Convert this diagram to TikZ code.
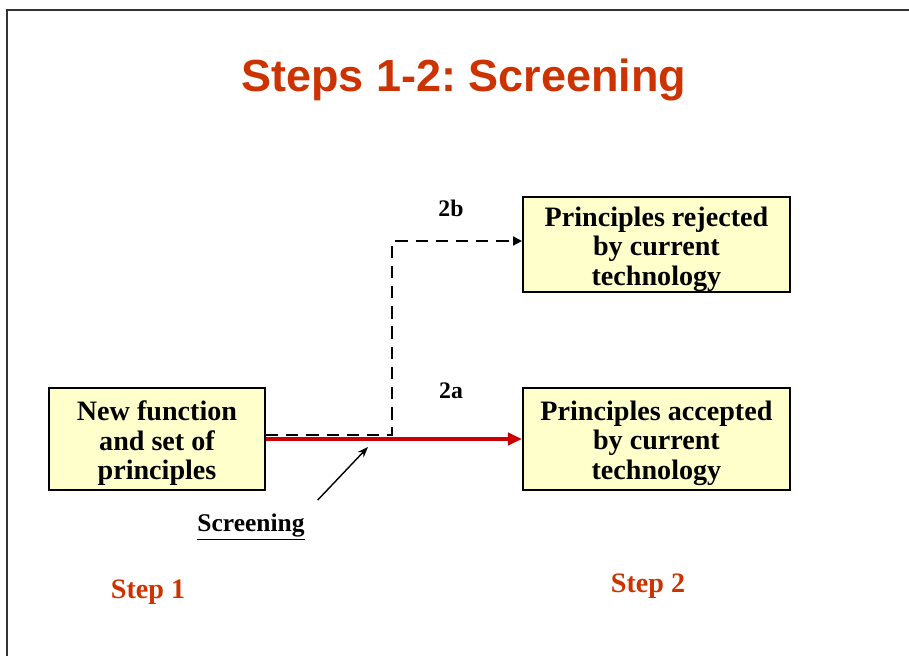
\documentclass[tikz,border=0pt]{standalone}
\usepackage{fontspec}
\setmainfont{Liberation Serif}
\newfontfamily\titlefont{Liberation Sans}
\usepackage{xcolor}
\usetikzlibrary{positioning,arrows.meta}

\definecolor{titlered}{RGB}{204,51,0}
\definecolor{arrowred}{RGB}{204,0,0}
\definecolor{boxyellow}{RGB}{255,255,204}
\newcommand{\topstrut}{\rule{0pt}{16pt}}

\begin{document}
\begin{tikzpicture}[
        every node/.style={font=\bfseries},
        box/.style={
            draw=black,
            line width=1.1pt,
            fill=boxyellow,
            align=center,
            inner xsep=2pt,
            inner ysep=0pt,
            font=\fontsize{16}{16.8}\selectfont\bfseries
        },
        steplabel/.style={text=titlered, font=\fontsize{16}{18}\selectfont\bfseries},
        branchlabel/.style={font=\fontsize{13.5}{15}\selectfont\bfseries},
        >=Triangle,
        passarrow/.style={->, line width=2pt, draw=arrowred, arrows={-Triangle[length=8pt,width=7pt]}},
        rejectarrow/.style={->, line width=1.7pt, dash pattern=on 7pt off 4.5pt, arrows={-Triangle[length=5pt,width=5pt]}},
        pointer/.style={->, line width=0.8pt, arrows={-Stealth[length=6pt,width=4.5pt]}}
    ]
        \useasboundingbox (0,0) rectangle (18.18,-13.1);

        % Frame
        \draw[line width=1pt, black!80] (18.3,-0.2) -- (0.14,-0.2) -- (0.14,-13.3);

        % Title
        \node[anchor=base, text=titlered, font=\titlefont\fontsize{25.6}{30}\selectfont\bfseries] (title) at (9.28,-1.82) {Steps 1-2:\ Screening};

        % Boxes
        \node[box, minimum width=4.32cm, minimum height=2.04cm] (newfn) at (3.14,-8.78) {\topstrut New function\\and set of\\principles};
        \node[box, minimum width=5.34cm, minimum height=2.04cm, right=5.12cm of newfn] (accepted) {\topstrut Principles accepted\\by current\\technology};
        \node[box, minimum width=5.34cm, minimum height=1.90cm, above=1.88cm of accepted] (rejected) {\topstrut Principles rejected\\by current\\technology};

        % Branch labels
        \node[branchlabel] (lab2b) at (9.02,-4.16) {2b};
        \node[branchlabel] (lab2a) at (9.02,-7.82) {2a};
        \coordinate (bend) at (7.84,-4.82);

        % Flows
        \draw[passarrow] (newfn.east) -- (accepted.west);
        \draw[rejectarrow] ([yshift=0.08cm]newfn.east) -| (bend) -- (bend -| rejected.west);

        % Screening
        \node[font=\fontsize{14.5}{16}\selectfont\bfseries] (screening) at (5.02,-10.54) {\underline{Screening}};
        \coordinate (screenpt) at (7.36,-8.94);
        \draw[pointer, shorten <=0.2cm] (screening.north east) -- (screenpt);

        % Steps
        \node[steplabel] (step1) at (2.96,-11.84) {Step 1};
        \node[steplabel] (step2) at (12.96,-11.72) {Step 2};

    \end{tikzpicture}
\end{document}
